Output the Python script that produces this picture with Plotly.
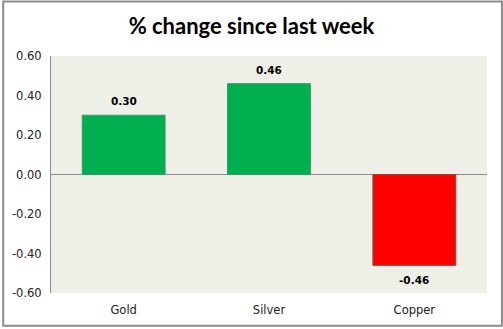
import plotly.graph_objects as go

# Weekly price change by metal
metals = ["Gold", "Silver", "Copper"]
pct_change = [0.30, 0.46, -0.46]
tick_vals = [0.60, 0.40, 0.20, 0.00, -0.20, -0.40, -0.60]

bar_colors = ["#00B050" if v >= 0 else "#FF0000" for v in pct_change]
edge_colors = ["#3C9A5F" if v >= 0 else "#8B4A2B" for v in pct_change]

W, H = 503, 329
ml, mr, mt, mb = 49, 16, 56, 34
pw, ph = W - ml - mr, H - mt - mb

label_font = "DejaVu Sans, Verdana, sans-serif"

fig = go.Figure(
    go.Bar(
        x=metals,
        y=pct_change,
        marker=dict(color=bar_colors, line=dict(color=edge_colors, width=1)),
        width=0.57,
        hoverinfo="skip",
    )
)

# Value labels above positive bars and below negative ones
for name, v in zip(metals, pct_change):
    fig.add_annotation(
        x=name,
        y=v,
        text=f"<b>{v:.2f}</b>",
        showarrow=False,
        yshift=14 if v >= 0 else -15,
        font=dict(family=label_font, size=10.5, color="#000000"),
    )

fig.update_layout(
    width=W,
    height=H,
    margin=dict(l=ml, r=mr, t=mt, b=mb),
    paper_bgcolor="#FFFFFF",
    plot_bgcolor="#EEF0E8",
    showlegend=False,
    title=dict(
        text="<b>% change since last week</b>",
        x=0.5,
        xanchor="center",
        y=1 - 26 / H,
        yanchor="middle",
        font=dict(family="Lato, Open Sans, sans-serif", size=22, color="#000000"),
    ),
    font=dict(family=label_font, size=11, color="#222222"),
    xaxis=dict(
        showgrid=False,
        showline=False,
        ticks="",
        tickfont=dict(family=label_font, size=11.5, color="#222222"),
        ticklabelstandoff=8,
    ),
    yaxis=dict(
        range=[-0.60, 0.60],
        tickvals=tick_vals,
        ticktext=[f"{v:.2f}" for v in tick_vals],
        showgrid=False,
        zeroline=True,
        zerolinecolor="#8C8C8C",
        zerolinewidth=1,
        showline=True,
        linecolor="#8C8C8C",
        linewidth=1,
        ticks="",
        tickfont=dict(family=label_font, size=11.5, color="#222222"),
        ticklabelstandoff=6,
    ),
    bargap=0.43,
)

# Outer frame around the whole chart
fig.add_shape(
    type="rect",
    xref="paper",
    yref="paper",
    x0=(1 - ml) / pw,
    x1=(W - 1 - ml) / pw,
    y0=(H - mb - (H - 1)) / ph,
    y1=(H - mb - 1) / ph,
    line=dict(color="#8C8C8C", width=2),
    layer="above",
)

fig.write_html("out.html")
